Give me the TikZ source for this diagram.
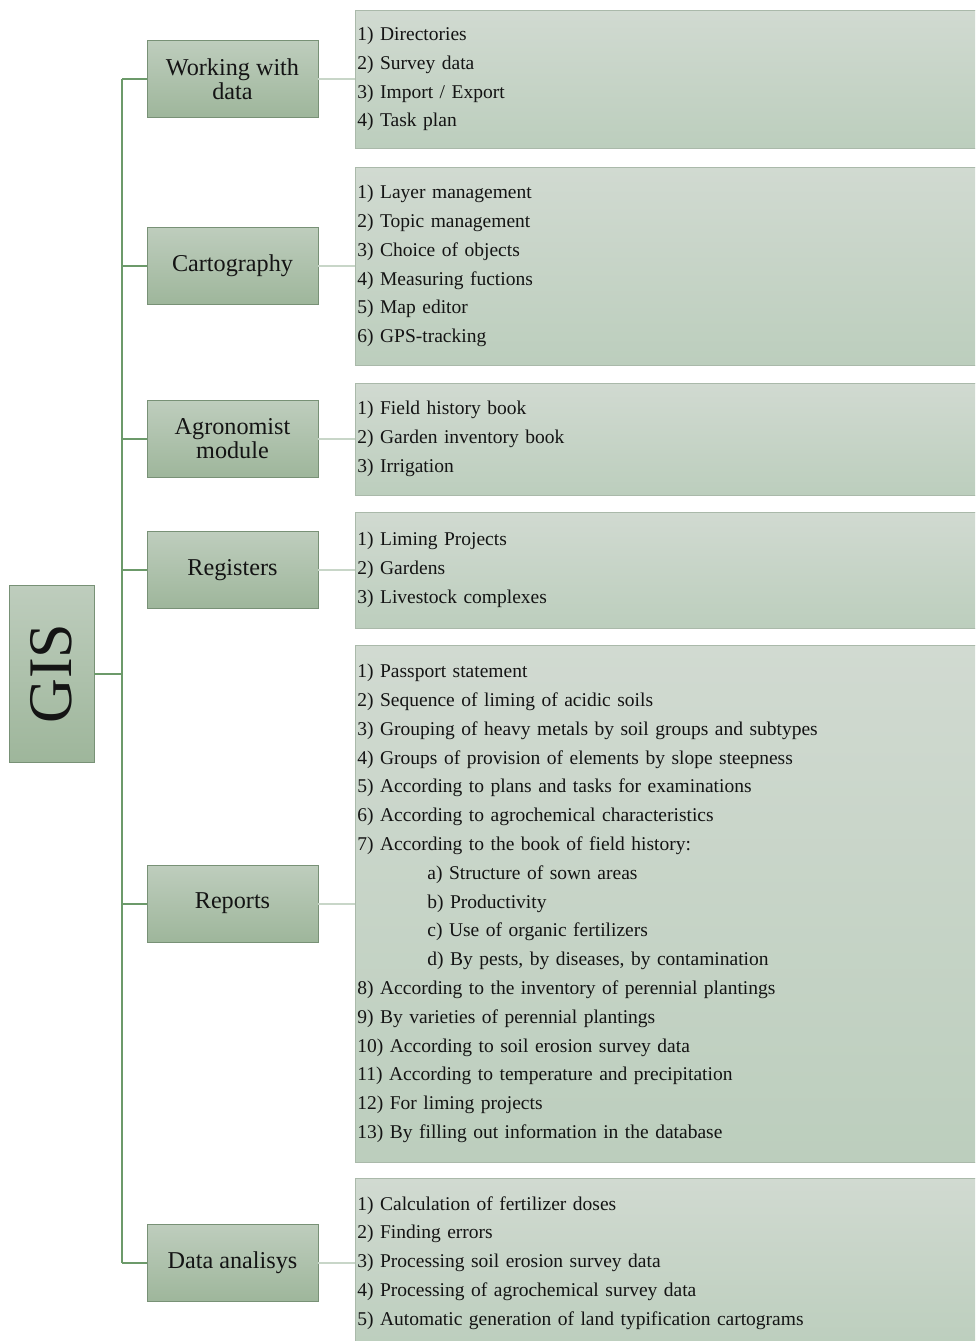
\documentclass[tikz,border=0pt]{standalone}
\usepackage{fontspec}
\setmainfont{Liberation Serif}
\usetikzlibrary{positioning}
\definecolor{gistrunk}{RGB}{108,154,106}
\definecolor{gisleaf}{RGB}{200,214,200}
\definecolor{giscattop}{RGB}{190,205,189}
\definecolor{giscatbot}{RGB}{158,182,155}
\definecolor{giscatedge}{RGB}{120,145,118}
\definecolor{gislisttop}{RGB}{209,218,209}
\definecolor{gislistbot}{RGB}{188,206,189}
\definecolor{gislistedge}{RGB}{170,185,170}
\definecolor{gistext}{RGB}{20,20,20}
\tikzset{
  catbox/.style={draw=giscatedge,thick,top color=giscattop,bottom color=giscatbot,
                 align=center,font=\fontsize{24.2}{24}\selectfont,text=gistext,
                 inner sep=2pt,minimum width=171pt,minimum height=77pt},
  listbox/.style={draw=gislistedge,thick,top color=gislisttop,bottom color=gislistbot,
                  align=left,font=\fontsize{19.5}{28.8}\selectfont,text=gistext,
                  anchor=west,inner xsep=2pt,inner ysep=0pt,text width=636pt,minimum width=640pt},
  trunk/.style={draw=gistrunk,line width=2pt},
  leaf/.style={draw=gisleaf,line width=2pt},
}
\newcommand{\gisindent}{\hspace*{70pt}}

\begin{document}
\begin{tikzpicture}[x=1pt,y=-1pt]
\clip (0,0) rectangle (975,1341);
\fill[white] (0,0) rectangle (975,1341);
% --- root ---
\node[catbox,minimum width=85pt,minimum height=177pt,font=\fontsize{62}{62}\selectfont] (gis) at (51.5,673.5) {\rotatebox{90}{GIS}};
% --- modules ---
\node[catbox] (work) at (232.5,79) {Working with\\data};
\node[catbox] (carto) at (232.5,266) {Cartography};
\node[catbox] (agro) at (232.5,439) {Agronomist\\module};
\node[catbox] (regs) at (232.5,570) {Registers};
\node[catbox] (reps) at (232.5,903.5) {Reports};
\node[catbox] (anal) at (232.5,1263) {Data analisys};
% --- lists ---
\node[listbox,minimum height=138pt] (workl) at (355,79)
 {1) Directories\\2) Survey data\\3) Import / Export\\4) Task plan};
\node[listbox,minimum height=198pt] (cartol) at (355,266)
 {1) Layer management\\2) Topic management\\3) Choice of objects\\4) Measuring fuctions\\5) Map editor\\6) GPS-tracking};
\node[listbox,minimum height=112pt] (agrol) at (355,439)
 {1) Field history book\\2) Garden inventory book\\3) Irrigation};
\node[listbox,minimum height=116pt] (regsl) at (355,570)
 {1) Liming Projects\\2) Gardens\\3) Livestock complexes};
\node[listbox,minimum height=517pt] (repsl) at (355,903.5)
 {1) Passport statement\\
  2) Sequence of liming of acidic soils\\
  3) Grouping of heavy metals by soil groups and subtypes\\
  4) Groups of provision of elements by slope steepness\\
  5) According to plans and tasks for examinations\\
  6) According to agrochemical characteristics\\
  7) According to the book of field history:\\
  \gisindent a) Structure of sown areas\\
  \gisindent b) Productivity\\
  \gisindent c) Use of organic fertilizers\\
  \gisindent d) By pests, by diseases, by contamination\\
  8) According to the inventory of perennial plantings\\
  9) By varieties of perennial plantings\\
  10) According to soil erosion survey data\\
  11) According to temperature and precipitation\\
  12) For liming projects\\
  13) By filling out information in the database};
\node[listbox,minimum height=170pt] (anall) at (355,1263)
 {1) Calculation of fertilizer doses\\
  2) Finding errors\\
  3) Processing soil erosion survey data\\
  4) Processing of agrochemical survey data\\
  5) Automatic generation of land typification cartograms};
% trunk
\coordinate (ttop) at (122,79);
\coordinate (tbot) at (122,1263);
\draw[trunk] (ttop) -- (tbot);
\draw[trunk] (gis.east) -- (gis.east -| ttop);
\foreach \c in {work,carto,agro,regs,reps,anal}{
  \draw[trunk] (\c.west) -- (\c.west -| ttop);
  \draw[leaf] (\c.east) -- (\c l.west);
}
\end{tikzpicture}
\end{document}
